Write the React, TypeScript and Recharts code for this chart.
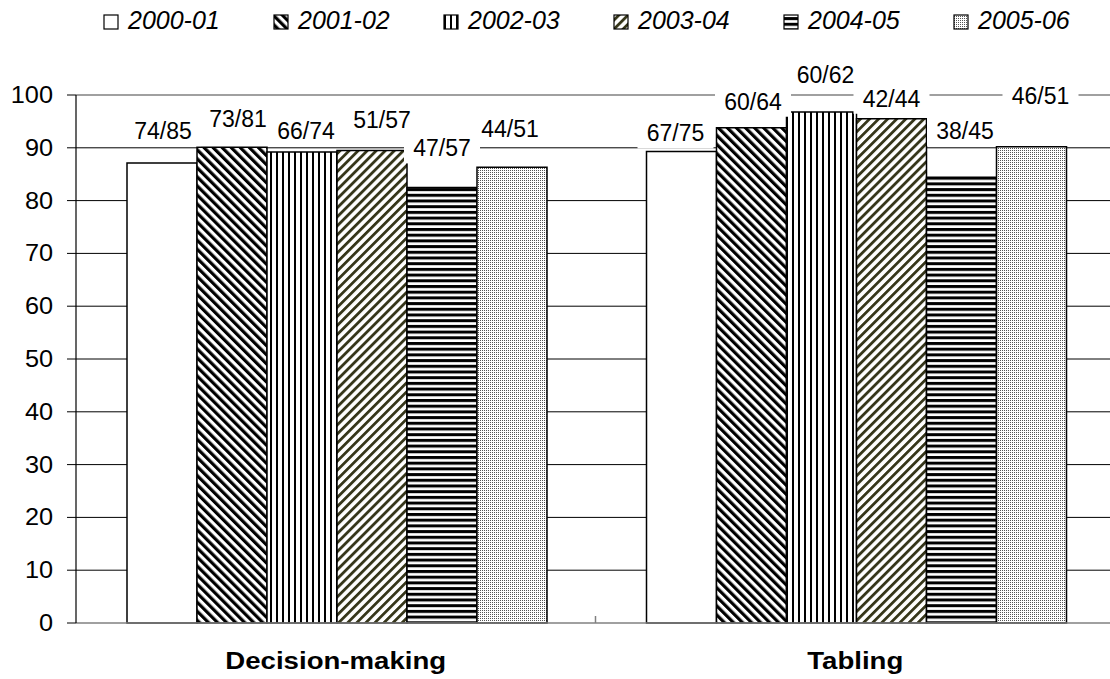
import React from 'react';
import { BarChart, Bar, XAxis, YAxis, CartesianGrid, LabelList, Legend, ReferenceLine } from 'recharts';

const categories = ['Decision-making', 'Tabling'];
const seasons = ['2000-01', '2001-02', '2002-03', '2003-04', '2004-05', '2005-06'];

// % per category (bar heights)
const pct0001 = [87.1, 89.3];
const pct0102 = [90.1, 93.8];
const pct0203 = [89.2, 96.8];
const pct0304 = [89.5, 95.5];
const pct0405 = [82.5, 84.4];
const pct0506 = [86.3, 90.2];

// counts shown above the bars
const tag0001 = ['74/85', '67/75'];
const tag0102 = ['73/81', '60/64'];
const tag0203 = ['66/74', '60/62'];
const tag0304 = ['51/57', '42/44'];
const tag0405 = ['47/57', '38/45'];
const tag0506 = ['44/51', '46/51'];

const yTicks = [0, 10, 20, 30, 40, 50, 60, 70, 80, 90, 100];
const gridValues = [10, 20, 30, 40, 50, 60, 70, 80, 90];

const allPct = [pct0001, pct0102, pct0203, pct0304, pct0405, pct0506];
const allTags = [tag0001, tag0102, tag0203, tag0304, tag0405, tag0506];

const rows = categories.map((name, i) => {
  const row: any = { name };
  allPct.forEach((arr, s) => {
    row['v' + s] = arr[i];
    row['t' + s] = allTags[s][i];
  });
  return row;
});

// label placement (px above bar top / px sideways), one pair per season
const tagLift = [[32, 18], [28.5, 26], [21, 36.5], [30, 20], [39, 46.5], [38, 50.5]];
const tagShift = [[1, -6], [6, 1.5], [4, 4], [10, 0], [0, 3.5], [-2, 9]];

const fills = ['pPlain', 'pDiagDown', 'pVert', 'pDiagUp', 'pHoriz', 'pDots'];
const font = '"Liberation Sans", Arial, sans-serif';

function PatternDefs() {
  return (
    <svg width={0} height={0} style={{ position: 'absolute' }}>
      <defs>
        <pattern id="pPlain" patternUnits="userSpaceOnUse" width={4} height={4}>
          <rect width={4} height={4} fill="#fff" />
        </pattern>
        <pattern id="pDiagDown" patternUnits="userSpaceOnUse" width={6.4} height={6.4} patternTransform="rotate(-45)">
          <rect width={6.4} height={6.4} fill="#fff" />
          <rect width={3.2} height={6.4} fill="#000" />
        </pattern>
        <pattern id="pVert" patternUnits="userSpaceOnUse" width={6} height={6}>
          <rect width={6} height={6} fill="#fff" />
          <rect width={2} height={6} fill="#000" />
        </pattern>
        <pattern id="pDiagUp" patternUnits="userSpaceOnUse" width={6.4} height={6.4} patternTransform="rotate(45)">
          <rect width={6.4} height={6.4} fill="#fff" />
          <rect width={2.8} height={6.4} fill="#36361a" />
        </pattern>
        <pattern id="pHoriz" patternUnits="userSpaceOnUse" width={6} height={5.7}>
          <rect width={6} height={5.7} fill="#fff" />
          <rect width={6} height={3} fill="#000" />
        </pattern>
        <pattern id="pDots" patternUnits="userSpaceOnUse" width={2} height={2}>
          <rect width={2} height={2} fill="#fff" />
          <rect width={1} height={1} fill="#555" />
        </pattern>
      </defs>
    </svg>
  );
}

function YTick({ x, y, payload }: any) {
  return (
    <text
      transform={`translate(${x},${y}) scale(1.1,1)`}
      textAnchor="end"
      dominantBaseline="central"
      fontSize={23}
      fontFamily={font}
      fill="#000"
    >
      {payload.value}
    </text>
  );
}

function XTick({ x, y, payload, index }: any) {
  const half = payload && typeof payload.offset === 'number' ? payload.offset : null;
  return (
    <g>
      {index === 0 && half ? (
        <line x1={x + half} x2={x + half} y1={y} y2={y - 7} stroke="#808080" strokeWidth={1.5} />
      ) : null}
      <text
        transform={`translate(${x},${y + 46}) scale(1.15,1)`}
        textAnchor="middle"
        fontSize={24}
        fontWeight="bold"
        fontFamily={font}
        fill="#000"
      >
        {payload.value}
      </text>
    </g>
  );
}

function makeTag(s: number) {
  return (p: any) => {
    const vb = p.viewBox || p;
    const x = vb.x ?? p.x;
    const y = vb.y ?? p.y;
    const w = vb.width ?? p.width;
    const i = p.index ?? 0;
    const cx = x + w / 2 + tagShift[s][i];
    const cy = y - tagLift[s][i];
    return (
      <g>
        <rect x={cx - 38} y={cy - 15} width={76} height={30} fill="#fff" />
        <text
          x={cx}
          y={cy}
          textAnchor="middle"
          dominantBaseline="central"
          fontSize={23}
          fontFamily={font}
          fill="#000"
        >
          {p.value}
        </text>
      </g>
    );
  };
}

function LegendBox() {
  return (
    <svg width={1110} height={40}>
      {seasons.map((s, i) => (
        <g key={s} transform={`translate(${104 + i * 170},0)`}>
          <rect x={0} y={15} width={14} height={14} fill={`url(#${fills[i]})`} stroke="#000" strokeWidth={1.2} />
          <text x={24} y={29} fontSize={25} fontStyle="italic" fontFamily={font} fill="#000">
            {s}
          </text>
        </g>
      ))}
    </svg>
  );
}

export default function App() {
  return (
    <div style={{ position: 'fixed', left: 0, top: 0, width: 1110, height: 679, overflow: 'hidden', background: '#fff' }}>
      <PatternDefs />
      <BarChart
        width={1120}
        height={679}
        data={rows}
        margin={{ top: 95, right: 5, left: 0, bottom: 0 }}
        barGap={0}
        barCategoryGap={51}
        style={{ fontFamily: font }}
      >
        <CartesianGrid vertical={false} horizontalValues={gridValues} stroke="#000" strokeWidth={1} />
        <ReferenceLine y={100} stroke="#808080" strokeWidth={1.5} />
        <XAxis
          dataKey="name"
          height={56}
          axisLine={{ stroke: '#808080', strokeWidth: 1.5 }}
          tickLine={false}
          tickSize={0}
          tickMargin={0}
          tick={<XTick />}
          interval={0}
        />
        <YAxis
          type="number"
          domain={[0, 100]}
          ticks={yTicks}
          width={76}
          tickSize={9}
          tickMargin={14}
          axisLine={{ stroke: '#000', strokeWidth: 1.2 }}
          tickLine={{ stroke: '#000' }}
          tick={<YTick />}
          interval={0}
        />
        <Legend
          layout="horizontal"
          verticalAlign="middle"
          align="center"
          wrapperStyle={{ top: 0, left: 0, width: 1110, height: 40 }}
          content={() => <LegendBox />}
        />
        {seasons.map((s, i) => (
          <Bar
            key={s}
            dataKey={'v' + i}
            name={s}
            fill={`url(#${fills[i]})`}
            stroke="#000"
            strokeWidth={1.5}
            isAnimationActive={false}
          >
            <LabelList dataKey={'t' + i} content={makeTag(i)} />
          </Bar>
        ))}
      </BarChart>
    </div>
  );
}
